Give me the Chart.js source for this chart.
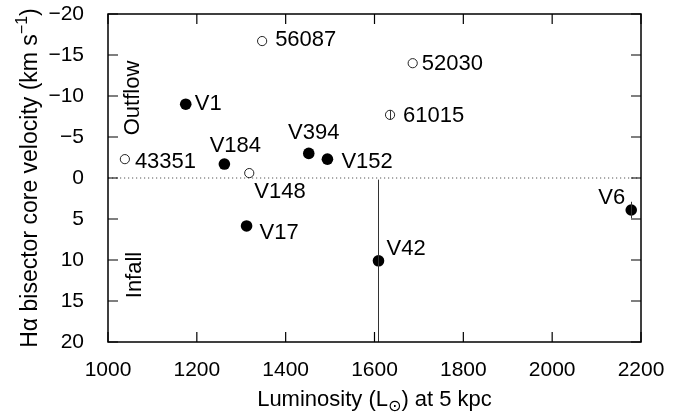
<!DOCTYPE html>
<html>
<head>
<meta charset="utf-8">
<script src="https://cdn.jsdelivr.net/npm/chart.js@4"></script>
<style>
  html, body { margin: 0; padding: 0; background: #fff; }
  canvas { display: block; }
</style>
</head>
<body>
<canvas id="chart" width="673" height="412"></canvas>
<script>
// Filled points (stars with measured cores)
const filledNames = ['V1', 'V184', 'V394', 'V152', 'V17', 'V42', 'V6'];
const filledLum = [1175, 1262, 1452, 1494, 1312, 1609, 2178];
const filledVel = [-9.0, -1.7, -3.0, -2.3, 5.85, 10.1, 3.9];
const filledErr = [0, 0, 0, 0, 0, 9.9, 1.0];

// Open points
const openNames = ['43351', 'V148', '56087', '61015', '52030'];
const openLum = [1038, 1318, 1347, 1635, 1686];
const openVel = [-2.3, -0.6, -16.7, -7.7, -14.0];
const openErr = [0, 0, 0, 0.6, 0];

const xTicks = [1000, 1200, 1400, 1600, 1800, 2000, 2200];
const yTicks = [-20, -15, -10, -5, 0, 5, 10, 15, 20];

// label placement: [dx, dy, align] in px from the point
const filledLabelPos = [[9, 0, 'left'], [11, -18, 'center'], [5, -20, 'center'], [14, 3, 'left'],
                        [13, 7, 'left'], [8, -12, 'left'], [-6, -12, 'right']];
const openLabelPos = [[10, 3, 'left'], [5, 19, 'left'], [13, -1, 'left'], [13, 1, 'left'], [9, 1, 'left']];

const FONT = '"Liberation Sans", Arial, sans-serif';
const toXY = (xs, ys) => xs.map((x, i) => ({ x: x, y: ys[i] }));
const fmt = v => (v < 0 ? '\u2212' + Math.abs(v) : String(v));

const decorPlugin = {
    id: 'decor',
    beforeDatasetsDraw(chart) {
        const { ctx, chartArea: a, scales: { y } } = chart;
        const y0 = y.getPixelForValue(0);
        ctx.save();
        ctx.strokeStyle = '#555';
        ctx.lineWidth = 1;
        ctx.setLineDash([1.2, 2.8]);
        ctx.beginPath();
        ctx.moveTo(a.left, y0);
        ctx.lineTo(a.right, y0);
        ctx.stroke();
        ctx.restore();
    },
    afterDatasetsDraw(chart) {
        const { ctx, chartArea: a, scales: { x, y } } = chart;
        ctx.save();
        // error bars
        ctx.beginPath();
        ctx.rect(a.left, a.top, a.right - a.left, a.bottom - a.top);
        ctx.clip();
        ctx.strokeStyle = '#333';
        ctx.lineWidth = 1;
        const bars = (xs, ys, es) => xs.forEach((v, i) => {
            if (!es[i]) return;
            const px = Math.round(x.getPixelForValue(v)) + 0.5;
            ctx.beginPath();
            ctx.moveTo(px, y.getPixelForValue(ys[i] - es[i]));
            ctx.lineTo(px, y.getPixelForValue(ys[i] + es[i]));
            ctx.stroke();
        });
        bars(filledLum, filledVel, filledErr);
        bars(openLum, openVel, openErr);
        ctx.restore();

        // point labels
        ctx.save();
        ctx.fillStyle = '#000';
        ctx.font = '22px ' + FONT;
        ctx.textBaseline = 'middle';
        const labels = (names, xs, ys, pos) => names.forEach((n, i) => {
            ctx.textAlign = pos[i][2];
            ctx.fillText(n, x.getPixelForValue(xs[i]) + pos[i][0], y.getPixelForValue(ys[i]) + pos[i][1]);
        });
        labels(filledNames, filledLum, filledVel, filledLabelPos);
        labels(openNames, openLum, openVel, openLabelPos);

        // Outflow / Infall
        const side = (txt, cx, cy) => {
            ctx.save();
            ctx.translate(cx, cy);
            ctx.rotate(-Math.PI / 2);
            ctx.textAlign = 'center';
            ctx.fillText(txt, 0, 0);
            ctx.restore();
        };
        side('Outflow', 133, 98);
        side('Infall', 135, 275);
        ctx.restore();
    },
    afterDraw(chart) {
        const { ctx, chartArea: a, scales: { x, y } } = chart;
        ctx.save();
        ctx.strokeStyle = '#000';
        ctx.lineWidth = 1.5;
        ctx.strokeRect(a.left, a.top, a.right - a.left, a.bottom - a.top);
        ctx.lineWidth = 1.2;
        ctx.beginPath();
        xTicks.forEach(v => {
            const px = x.getPixelForValue(v);
            ctx.moveTo(px, a.bottom); ctx.lineTo(px, a.bottom - 10);
            ctx.moveTo(px, a.top); ctx.lineTo(px, a.top + 10);
        });
        yTicks.forEach(v => {
            const py = y.getPixelForValue(v);
            ctx.moveTo(a.left, py); ctx.lineTo(a.left + 10, py);
            ctx.moveTo(a.right, py); ctx.lineTo(a.right - 10, py);
        });
        ctx.stroke();

        // axis titles
        ctx.fillStyle = '#000';
        ctx.textBaseline = 'alphabetic';
        ctx.textAlign = 'left';
        // y title with superscript
        ctx.save();
        ctx.translate(37, (a.top + a.bottom) / 2);
        ctx.rotate(-Math.PI / 2);
        ctx.font = '23px ' + FONT;
        const p1 = 'H\u03b1 bisector core velocity (km s', p3 = ')';
        const w1 = ctx.measureText(p1).width, w3 = ctx.measureText(p3).width;
        ctx.font = '16px ' + FONT;
        const p2 = '\u22121', w2 = ctx.measureText(p2).width;
        let sx = -(w1 + w2 + w3) / 2;
        ctx.font = '23px ' + FONT;
        ctx.fillText(p1, sx, 0);
        ctx.font = '16px ' + FONT;
        ctx.fillText(p2, sx + w1, -10);
        ctx.font = '23px ' + FONT;
        ctx.fillText(p3, sx + w1 + w2, 0);
        ctx.restore();

        // x title with sun subscript
        ctx.font = '22px ' + FONT;
        const q1 = 'Luminosity (L', q3 = ') at 5 kpc';
        const v1 = ctx.measureText(q1).width, v3 = ctx.measureText(q3).width;
        ctx.font = '16px "DejaVu Sans", sans-serif';
        const q2 = '\u2299', v2 = ctx.measureText(q2).width;
        let tx = (a.left + a.right) / 2 - (v1 + v2 + v3) / 2;
        const ty = 406;
        ctx.font = '22px ' + FONT;
        ctx.fillText(q1, tx, ty);
        ctx.font = '16px "DejaVu Sans", sans-serif';
        ctx.fillText(q2, tx + v1, ty + 5);
        ctx.font = '22px ' + FONT;
        ctx.fillText(q3, tx + v1 + v2, ty);
        ctx.restore();
    }
};

new Chart(document.getElementById('chart'), {
    type: 'scatter',
    data: {
        datasets: [
            {
                label: 'filled',
                data: toXY(filledLum, filledVel),
                pointRadius: 5.8,
                pointBackgroundColor: '#000',
                pointBorderColor: '#000',
                pointBorderWidth: 0
            },
            {
                label: 'open',
                data: toXY(openLum, openVel),
                pointRadius: 4.6,
                pointBackgroundColor: '#fff',
                pointBorderColor: '#222',
                pointBorderWidth: 1
            },
            {
                label: 'open centres',
                data: toXY(openLum, openVel),
                pointRadius: 0.9,
                pointBackgroundColor: '#000',
                pointBorderWidth: 0
            }
        ]
    },
    options: {
        responsive: false,
        animation: false,
        devicePixelRatio: 1,
        layout: { padding: { top: 14, right: 32, left: 0, bottom: 0 } },
        plugins: { legend: { display: false }, tooltip: { enabled: false } },
        scales: {
            x: {
                type: 'linear',
                min: 1000, max: 2200,
                afterFit: s => { s.height = 70; s.paddingLeft = 0; s.paddingRight = 0; },
                afterBuildTicks: s => { s.ticks = xTicks.map(v => ({ value: v })); },
                grid: { display: false },
                border: { display: false },
                ticks: { color: '#000', font: { size: 21, family: FONT }, padding: 8, maxRotation: 0, callback: v => String(v) }
            },
            y: {
                type: 'linear',
                reverse: true,
                min: -20, max: 20,
                afterFit: s => { s.width = 108; s.paddingTop = 0; s.paddingBottom = 0; },
                afterBuildTicks: s => { s.ticks = yTicks.map(v => ({ value: v })); },
                grid: { display: false },
                border: { display: false },
                ticks: { color: '#000', font: { size: 21, family: FONT }, padding: 16, callback: fmt }
            }
        }
    },
    plugins: [decorPlugin]
});
</script>
</body>
</html>
